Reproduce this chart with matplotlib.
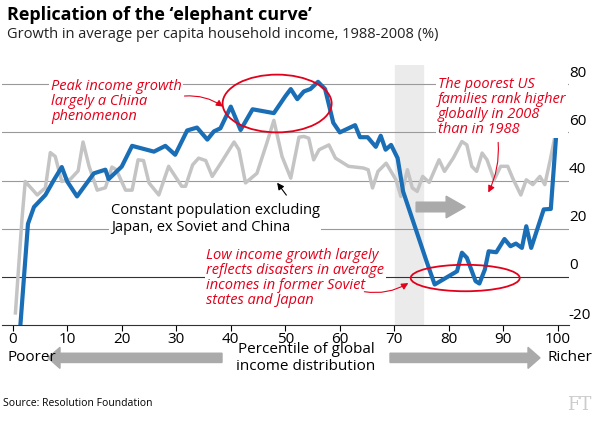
import matplotlib
matplotlib.use('Agg')
import matplotlib.pyplot as plt
from matplotlib.patches import Ellipse, FancyArrow

# blue: actual growth by percentile
blue_x = [1.4, 2.8, 3.9, 6, 7.5, 9, 10, 11.8, 14.9, 17, 17.6, 20, 21.9, 25.9, 28, 29.8, 32, 33.8,
          35.7, 36.9, 38.1, 40, 41.8, 44, 47.9, 50, 51, 52.2, 53.4, 54.6, 56, 57.3, 58.8, 60, 62.8,
          63.7, 65.1, 66.6, 67.5, 68.4, 69.4, 70.6, 71.6, 76, 77.4, 81.5, 82.4, 83.3, 84.9, 85.6,
          86.6, 87.3, 88.7, 90.2, 91.3, 92.3, 93.4, 94.2, 95.1, 97.4, 98.7, 99.9]
blue_y = [-20.4, 22, 29, 34, 40, 45.6, 39.6, 33.4, 43, 44.5, 40.6, 45.8, 54.4, 52, 54.4, 50.7, 60.8, 62,
          57, 60.4, 61.7, 70.7, 61, 69.6, 68, 75, 78, 73.8, 77, 78, 81, 78, 64, 60, 63,
          58, 58, 54, 58.6, 52.8, 54.8, 49.3, 35.5, 5.8, -3.2, 2.3, 10, 7.9, -1.8, -2.8,
          3, 10.6, 10.2, 15.7, 12.7, 13.8, 12, 21, 12, 28, 28.2, 65.5]

# grey: constant population excluding Japan, ex Soviet and China
grey_x = [0.5, 1.7, 2.3, 4.5, 6, 6.9, 7.8, 9, 10.6, 12, 12.9, 14, 15.5, 17, 18.2, 19, 20.7, 21.9,
          23, 24, 25, 26.8, 28.6, 31, 31.7, 33, 34.1, 35.4, 36.6, 38.4, 40.6, 41.5, 42.7, 44.8,
          46.6, 47.9, 49.4, 51, 52.5, 53.4, 54.3, 55.2, 56.2, 58, 59.2, 61.6, 64.3, 65.2, 66,
          67, 68.5, 70.3, 71.2, 72.4, 73.3, 74.2, 75.2, 76.4, 78.2, 79.2, 80.8, 82.4, 83.3, 84.2,
          85.1, 86.1, 87, 88.3, 89.5, 90.8, 91.7, 93.2, 94.2, 95.4, 96.7, 97.6, 98.6, 100.3]
grey_y = [-15, 24, 39.6, 34, 37, 51.6, 50, 39.6, 40.6, 44, 56, 46, 36, 37, 45.6, 44.5, 36, 36,
          48.6, 48.3, 39, 34, 45.9, 37.6, 37.6, 46.5, 49.3, 48.3, 41.7, 48, 56, 52.8, 39, 43,
          55.5, 65, 50, 41, 58, 58.3, 57.6, 48.6, 52.8, 54.8, 49.3, 45.9, 45.2, 44.5, 36.9,
          43.8, 47.2, 40.3, 33.4, 44.5, 36.9, 35.5, 41.7, 39.2, 48.6, 43.8, 49.3, 56.2, 54.8, 45.9,
          43.8, 51.4, 48.6, 40.3, 45.9, 45.9, 41, 34, 40.3, 38.3, 41.7, 38.3, 48.6, 68]

yticks = [-20, 0, 20, 40, 60, 80]
xticks = list(range(0, 101, 10))

plt.rcParams['font.family'] = ['Open Sans', 'DejaVu Sans']
red = '#e3001b'
fig = plt.figure(figsize=(6, 4.22), dpi=100)
ax = fig.add_axes([0.003, 0.23, 0.945, 0.616])
ax.set_xlim(-2, 102)
ax.set_ylim(-20, 88)

for v in yticks[1:]:
    ax.axhline(v, color='#333333' if v == 0 else '#999999', lw=0.8, zorder=1)
    ax.text(1.0, v + 1.5, str(v), transform=ax.get_yaxis_transform(), ha='left', va='bottom', fontsize=11)
ax.text(1.0, -19, '-20', transform=ax.get_yaxis_transform(), ha='left', va='bottom', fontsize=11)
ax.axvspan(70.2, 75.3, color='#ebebeb', zorder=0)

ax.plot(grey_x, grey_y, color='#c4c4c4', lw=2.5, zorder=2)
ax.plot(blue_x, blue_y, color='#1a6eb6', lw=3, zorder=3)

for s in ['top', 'right', 'left']:
    ax.spines[s].set_visible(False)
ax.spines['bottom'].set_color('#333333')
ax.set_yticks([])
ax.set_xticks(xticks)
ax.tick_params(axis='x', length=4, labelsize=11, pad=1)

ax.add_patch(Ellipse((48.5, 72), 20, 24, fill=False, ec=red, lw=1.3, zorder=4))
ax.add_patch(Ellipse((83, -0.5), 20, 11, fill=False, ec=red, lw=1.3, zorder=4))
ax.add_patch(FancyArrow(74, 29, 9, 0, width=4, head_width=9, head_length=3.5,
                        color='#aaaaaa', zorder=4, length_includes_head=True))

ax.text(7, 82, 'Peak income growth\nlargely a China\nphenomenon', color=red, style='italic',
        fontsize=10.5, va='top', linespacing=1.0, bbox=dict(fc='white', ec='none', pad=1))
ax.annotate('', xy=(39, 70), xytext=(31, 75),
            arrowprops=dict(arrowstyle='-|>', color=red, lw=0.8, connectionstyle='arc3,rad=-0.2'))
ax.text(78, 83, 'The poorest US\nfamilies rank higher\nglobally in 2008\nthan in 1988', color=red,
        style='italic', fontsize=10.5, va='top', linespacing=1.0, bbox=dict(fc='white', ec='none', pad=1))
ax.annotate('', xy=(87, 34), xytext=(89, 57),
            arrowprops=dict(arrowstyle='-|>', color=red, lw=0.8, connectionstyle='arc3,rad=-0.15'))
ax.text(35.5, 12, 'Low income growth largely\nreflects disasters in average\nincomes in former Soviet\nstates and Japan',
        color=red, style='italic', fontsize=10.5, va='top', linespacing=1.0,
        bbox=dict(fc='white', ec='none', pad=1))
ax.annotate('', xy=(73, -2), xytext=(64, -6),
            arrowprops=dict(arrowstyle='-|>', color=red, lw=0.8, connectionstyle='arc3,rad=0.2'))
ax.text(18, 30.5, 'Constant population excluding\nJapan, ex Soviet and China', fontsize=10.5,
        ha='left', va='top', linespacing=1.15, bbox=dict(fc='white', ec='none', pad=1))
ax.annotate('', xy=(48.2, 40), xytext=(50.5, 33),
            arrowprops=dict(arrowstyle='-|>', color='black', lw=0.8))

fig.text(0.012, 0.985, "Replication of the \u2018elephant curve\u2019", fontsize=13, weight='bold', va='top')
fig.text(0.012, 0.935, 'Growth in average per capita household income, 1988-2008 (%)', fontsize=10.5, va='top', color='#222222')
fig.text(0.013, 0.152, 'Poorer', fontsize=11, va='center')
fig.text(0.988, 0.152, 'Richer', fontsize=11, va='center', ha='right')
fig.text(0.51, 0.152, 'Percentile of global\nincome distribution', fontsize=11, va='center', ha='center', linespacing=1.2)
fig.patches.append(FancyArrow(0.37, 0.152, -0.27, 0, width=0.022, head_width=0.05, head_length=0.02,
                              color='#aaaaaa', transform=fig.transFigure, figure=fig))
fig.patches.append(FancyArrow(0.65, 0.152, 0.23, 0, width=0.022, head_width=0.05, head_length=0.02,
                              color='#aaaaaa', transform=fig.transFigure, figure=fig))
fig.text(0.005, 0.045, 'Source: Resolution Foundation', fontsize=7.5, va='center')
fig.text(0.985, 0.04, 'FT', fontsize=13, color='#cccccc', ha='right', va='center', family='DejaVu Serif')

fig.savefig('out.png', dpi=100)
